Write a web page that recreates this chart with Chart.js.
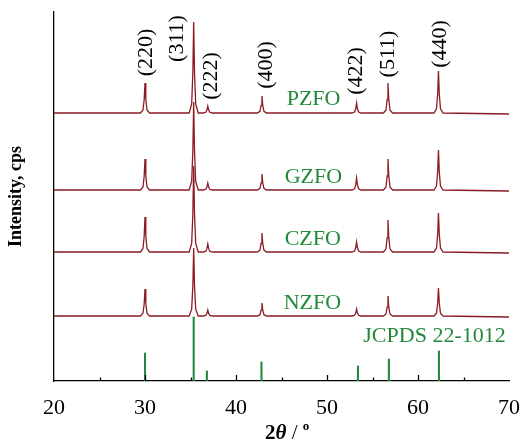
<!DOCTYPE html>
<html>
<head>
<meta charset="utf-8">
<script src="https://cdn.jsdelivr.net/npm/chart.js@4"></script>
<style>
  body { margin: 0; background: #fff; }
  #wrap { width: 526px; height: 443px; }
</style>
</head>
<body>
<div id="wrap"><canvas id="xrd" width="526" height="443"></canvas></div>
<script>
// XRD patterns, [2theta, intensity] (stacked, arbitrary cps)
const pzfo = [[20,268],
  [29.5,268],[29.78,271],[29.91,281.5],[30,298],[30.09,281.5],[30.22,271],[30.5,268],
  [34.85,268],[35.13,277.1],[35.26,309],[35.35,359],[35.44,309],[35.57,277.1],[35.85,268],
  [36.4,268],[36.68,268.7],[36.81,271.2],[36.9,275],[36.99,271.2],[37.12,268.7],[37.4,268],
  [42.35,268],[42.63,269.7],[42.76,275.7],[42.85,285],[42.94,275.7],[43.07,269.7],[43.35,268],
  [52.75,268],[53.03,269],[53.16,272.5],[53.25,278],[53.34,272.5],[53.47,269],[53.75,268],
  [56.2,268],[56.48,271],[56.61,281.5],[56.7,298],[56.79,281.5],[56.92,271],[57.2,268],
  [61.75,268],[62.03,272.2],[62.16,286.9],[62.25,310],[62.34,286.9],[62.47,272.2],[62.75,268],
  [70,267]];
const gzfo = [[20,191],
  [29.5,191],[29.78,194.1],[29.91,205],[30,222],[30.09,205],[30.22,194.1],[30.5,191],
  [34.85,191],[35.13,199.8],[35.26,230.6],[35.35,279],[35.44,230.6],[35.57,199.8],[35.85,191],
  [36.4,191],[36.68,191.7],[36.81,194.2],[36.9,198],[36.99,194.2],[37.12,191.7],[37.4,191],
  [42.35,191],[42.63,192.6],[42.76,198.2],[42.85,207],[42.94,198.2],[43.07,192.6],[43.35,191],
  [52.75,191],[53.03,192.2],[53.16,196.4],[53.25,203],[53.34,196.4],[53.47,192.2],[53.75,191],
  [56.2,191],[56.48,194.1],[56.61,205],[56.7,222],[56.79,205],[56.92,194.1],[57.2,191],
  [61.75,191],[62.03,195],[62.16,209],[62.25,231],[62.34,209],[62.47,195],[62.75,191],
  [70,190]];
const czfo = [[20,129],
  [29.5,129],[29.78,132.5],[29.91,144.8],[30,164],[30.09,144.8],[30.22,132.5],[30.5,129],
  [34.85,129],[35.13,137.6],[35.26,167.7],[35.35,215],[35.44,167.7],[35.57,137.6],[35.85,129],
  [36.4,129],[36.68,129.8],[36.81,132.6],[36.9,137],[36.99,132.6],[37.12,129.8],[37.4,129],
  [42.35,129],[42.63,130.9],[42.76,137.6],[42.85,148],[42.94,137.6],[43.07,130.9],[43.35,129],
  [52.75,129],[53.03,130],[53.16,133.5],[53.25,139],[53.34,133.5],[53.47,130],[53.75,129],
  [56.2,129],[56.48,132.2],[56.61,143.4],[56.7,161],[56.79,143.4],[56.92,132.2],[57.2,129],
  [61.75,129],[62.03,132.9],[62.16,146.6],[62.25,168],[62.34,146.6],[62.47,132.9],[62.75,129],
  [70,128]];
const nzfo = [[20,65],
  [29.5,65],[29.78,67.7],[29.91,77.2],[30,92],[30.09,77.2],[30.22,67.7],[30.5,65],
  [34.85,65],[35.13,71.8],[35.26,95.6],[35.35,133],[35.44,95.6],[35.57,71.8],[35.85,65],
  [36.4,65],[36.68,65.6],[36.81,67.7],[36.9,71],[36.99,67.7],[37.12,65.6],[37.4,65],
  [42.35,65],[42.63,66.3],[42.76,70.9],[42.85,78],[42.94,70.9],[43.07,66.3],[43.35,65],
  [52.75,65],[53.03,65.7],[53.16,68.2],[53.25,72],[53.34,68.2],[53.47,65.7],[53.75,65],
  [56.2,65],[56.48,67],[56.61,74],[56.7,85],[56.79,74],[56.92,67],[57.2,65],
  [61.75,65],[62.03,67.8],[62.16,77.6],[62.25,93],[62.34,77.6],[62.47,67.8],[62.75,65],
  [70,64]];

// reference card lines
const jcpdsPos = [30.0, 35.35, 36.8, 42.8, 53.4, 56.8, 62.3];
const jcpdsInt = [28, 64, 10, 19, 15, 22, 30];

const hkl = ['(220)', '(311)', '(222)', '(400)', '(422)', '(511)', '(440)'];
const sampleNames = ['PZFO', 'GZFO', 'CZFO', 'NZFO'];
const cardName = 'JCPDS 22-1012';
const xTicks = [20, 30, 40, 50, 60, 70];

const RED = '#8b1c24';
const GREEN = '#22883c';
const SERIF = '"Liberation Serif", "Times New Roman", serif';

const toXY = arr => arr.map(p => ({ x: p[0], y: p[1] }));

// where the annotations sit (data units)
const hklAt = [[30.17, 328.5], [33.53, 342.5], [37.25, 305], [43.27, 316], [53.23, 310], [56.73, 327], [62.42, 337]];
const nameAt = [[45.57, 276], [45.35, 198], [45.35, 136], [45.24, 72]];
const cardAt = [53.99, 39];

const annotations = {
    id: 'annotations',
    afterDatasetsDraw(chart) {
        const ctx = chart.ctx;
        const xs = chart.scales.x, ys = chart.scales.y;
        ctx.save();
        // hkl labels, rotated
        ctx.fillStyle = '#000';
        ctx.font = '22px ' + SERIF;
        ctx.textAlign = 'center';
        ctx.textBaseline = 'middle';
        hkl.forEach((t, i) => {
            ctx.save();
            ctx.translate(xs.getPixelForValue(hklAt[i][0]), ys.getPixelForValue(hklAt[i][1]));
            ctx.rotate(-Math.PI / 2);
            ctx.fillText(t, 0, 0);
            ctx.restore();
        });
        // sample names
        ctx.fillStyle = GREEN;
        ctx.textAlign = 'left';
        ctx.textBaseline = 'alphabetic';
        sampleNames.forEach((t, i) => {
            ctx.fillText(t, xs.getPixelForValue(nameAt[i][0]), ys.getPixelForValue(nameAt[i][1]));
        });
        ctx.fillText(cardName, xs.getPixelForValue(cardAt[0]), ys.getPixelForValue(cardAt[1]));
        ctx.restore();
    },
    afterDraw(chart) {
        const ctx = chart.ctx;
        const xs = chart.scales.x;
        const yb = chart.chartArea.bottom;
        ctx.save();
        // inward tick marks
        ctx.strokeStyle = '#000';
        ctx.lineWidth = 1.3;
        xs.ticks.forEach(t => {
            if (t.value <= 20 || t.value >= 70) return;
            const len = t.value % 10 === 0 ? 6 : 3.5;
            const px = Math.round(xs.getPixelForValue(t.value)) + 0.5;
            ctx.beginPath();
            ctx.moveTo(px, yb);
            ctx.lineTo(px, yb - len);
            ctx.stroke();
        });
        // x title: 2θ / °
        let x = 265;
        const y = 439;
        ctx.fillStyle = '#000';
        ctx.textBaseline = 'alphabetic';
        ctx.textAlign = 'left';
        ctx.font = 'bold 21px ' + SERIF;
        ctx.fillText('2', x, y);
        x += ctx.measureText('2').width;
        ctx.font = 'italic bold 21px ' + SERIF;
        ctx.fillText('θ', x, y);
        x += ctx.measureText('θ').width;
        ctx.font = '21px ' + SERIF;
        ctx.fillText(' / ', x, y);
        x += ctx.measureText(' / ').width;
        ctx.font = 'bold 13px ' + SERIF;
        ctx.fillText('o', x, y - 9);
        ctx.restore();
    }
};

const ctx = document.getElementById('xrd').getContext('2d');
const myChart = new Chart(ctx, {
    type: 'line',
    data: {
        datasets: [
            { label: sampleNames[0], data: toXY(pzfo), borderColor: RED },
            { label: sampleNames[1], data: toXY(gzfo), borderColor: RED },
            { label: sampleNames[2], data: toXY(czfo), borderColor: RED },
            { label: sampleNames[3], data: toXY(nzfo), borderColor: RED },
            {
                type: 'bar',
                label: cardName,
                data: jcpdsPos.map((p, i) => ({ x: p, y: jcpdsInt[i] })),
                backgroundColor: GREEN,
                barThickness: 1.4,
                borderWidth: 0
            }
        ]
    },
    options: {
        responsive: false,
        animation: false,
        devicePixelRatio: 1,
        layout: { padding: { left: 0, top: 12, right: 15, bottom: 0 } },
        elements: {
            line: { borderWidth: 1.3, tension: 0 },
            point: { radius: 0 }
        },
        scales: {
            x: {
                type: 'linear',
                min: 20,
                max: 70,
                offset: false,
                grid: { display: false },
                border: { display: true, color: '#000', width: 1.3 },
                ticks: {
                    stepSize: 5,
                    autoSkip: false,
                    maxRotation: 0,
                    padding: 6,
                    color: '#000',
                    font: { family: SERIF, size: 22 },
                    callback: v => (xTicks.includes(v) ? String(v) : '')
                },
                afterFit: s => { s.height = 62; }
            },
            y: {
                min: 0,
                max: 369,
                grid: { display: false },
                border: { display: true, color: '#000', width: 1.3 },
                ticks: { display: false },
                title: {
                    display: true,
                    text: 'Intensity, cps',
                    color: '#000',
                    font: { family: SERIF, size: 18, weight: 'bold' },
                    padding: { top: 6, bottom: 0 }
                },
                afterFit: s => { s.width = 54; }
            }
        },
        plugins: {
            legend: { display: false },
            tooltip: { enabled: false }
        }
    },
    plugins: [annotations]
});
</script>
</body>
</html>
